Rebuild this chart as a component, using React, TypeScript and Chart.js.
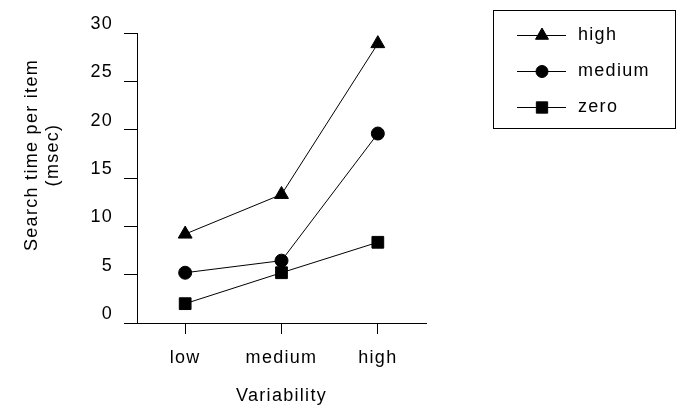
import React, { useEffect, useRef } from "react";
import { Chart, registerables } from "chart.js";
import { drawPoint } from "chart.js/helpers";

Chart.register(...registerables);

const categories = ["low", "medium", "high"];
const seriesNames = ["high", "medium", "zero"];
const highValues = [9.2, 13.3, 28.9];
const mediumValues = [5.2, 6.45, 19.6];
const zeroValues = [2.0, 5.2, 8.35];
const yTitleLines = ["Search time per item", "(msec)"];
const xTitle = "Variability";

const FONT = "'Liberation Sans', Arial, sans-serif";
const FS = 18;
const SPACING = "1.3px";

const spacingPlugin = {
  id: "spacing",
  beforeLayout(chart: any) {
    chart.ctx.letterSpacing = SPACING;
  },
  beforeDraw(chart: any) {
    chart.ctx.letterSpacing = SPACING;
  },
};

const yTitlePlugin = {
  id: "yTitle",
  afterDraw(chart: any) {
    const ctx = chart.ctx;
    ctx.save();
    ctx.letterSpacing = SPACING;
    ctx.font = `${FS}px ${FONT}`;
    ctx.fillStyle = "#000";
    ctx.textAlign = "center";
    ctx.textBaseline = "middle";
    yTitleLines.forEach((line, i) => {
      ctx.save();
      ctx.translate(32 + i * 21, 155);
      ctx.rotate(-Math.PI / 2);
      ctx.fillText(line, 0, 0);
      ctx.restore();
    });
    ctx.restore();
  },
};

const legendPlugin = {
  id: "boxLegend",
  afterDraw(chart: any) {
    const ctx = chart.ctx;
    ctx.save();
    ctx.strokeStyle = "#000";
    ctx.lineWidth = 1;
    ctx.strokeRect(493.5, 10.5, 182, 118);
    const rows = [35, 71, 107];
    const radii = [7.5, 6, 8];
    chart.data.datasets.forEach((ds: any, i: number) => {
      const y = rows[i] + 0.5;
      ctx.beginPath();
      ctx.moveTo(517, y);
      ctx.lineTo(566, y);
      ctx.strokeStyle = "#000";
      ctx.lineWidth = 1;
      ctx.stroke();
      ctx.fillStyle = "#000";
      ctx.strokeStyle = "#000";
      drawPoint(ctx, { pointStyle: ds.pointStyle, rotation: 0, borderWidth: 1, radius: radii[i] }, 542, y);
      ctx.fillStyle = "#000";
      ctx.letterSpacing = SPACING;
      ctx.font = `${FS}px ${FONT}`;
      ctx.textAlign = "left";
      ctx.textBaseline = "middle";
      ctx.fillText(ds.label, 578, y);
    });
    ctx.restore();
  },
};

export default function App() {
  const ref = useRef<HTMLCanvasElement>(null);
  useEffect(() => {
    document.body.style.margin = "0";
    const canvas = ref.current!;
    const pointOpts = (style: string, r: number) => ({
      pointStyle: style,
      pointRadius: r,
      pointHoverRadius: r,
      pointBackgroundColor: "#000",
      pointBorderColor: "#000",
      pointBorderWidth: 1,
    });
    const chart = new Chart(canvas, {
      type: "line",
      data: {
        labels: categories,
        datasets: [
          { label: seriesNames[0], data: highValues, borderColor: "#000", borderWidth: 1, ...pointOpts("triangle", 8) },
          { label: seriesNames[1], data: mediumValues, borderColor: "#000", borderWidth: 1, ...pointOpts("circle", 6.5) },
          { label: seriesNames[2], data: zeroValues, borderColor: "#000", borderWidth: 1, ...pointOpts("rect", 8.3) },
        ] as any,
      },
      options: {
        animation: false,
        responsive: false,
        layout: { padding: { top: 33, right: 251, left: 0, bottom: 0 } },
        plugins: { legend: { display: false }, tooltip: { enabled: false } },
        font: { family: FONT, size: FS },
        scales: {
          x: {
            offset: true,
            grid: { drawOnChartArea: false, tickLength: 11, color: "#000", offset: false },
            border: { display: true, color: "#000", width: 1 },
            ticks: { color: "#000", padding: 13, font: { family: FONT, size: FS }, maxRotation: 0 },
            title: { display: true, text: xTitle, color: "#000", font: { family: FONT, size: FS }, padding: { top: 0, bottom: 1 } },
            afterFit(scale: any) {
              scale.height = 85;
            },
          },
          y: {
            min: 0,
            max: 30,
            grid: { drawOnChartArea: false, tickLength: 13, color: "#000" },
            border: { display: true, color: "#000", width: 1 },
            ticks: { stepSize: 5, color: "#000", padding: 11, labelOffset: -9, font: { family: FONT, size: FS } },
            afterFit(scale: any) {
              scale.width = 137;
            },
          },
        },
      } as any,
      plugins: [spacingPlugin, yTitlePlugin, legendPlugin],
    });
    return () => chart.destroy();
  }, []);
  return <canvas ref={ref} width={677} height={408} style={{ display: "block" }} />;
}
